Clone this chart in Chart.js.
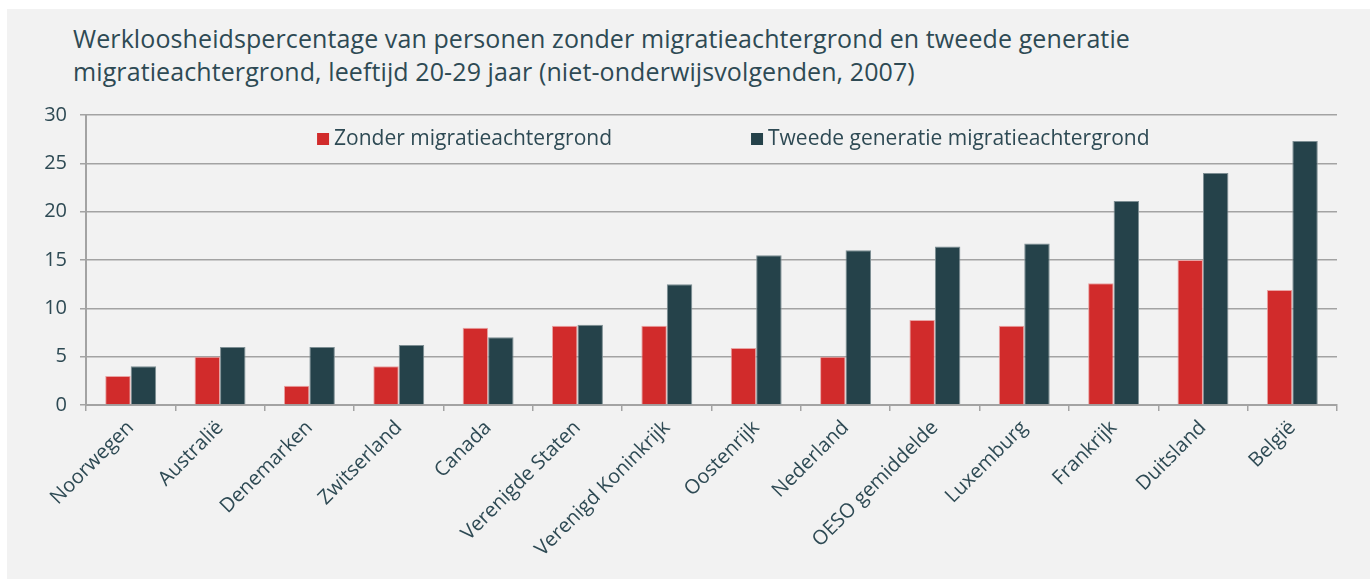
<!DOCTYPE html>
<html>
<head>
<meta charset="utf-8">
<script src="https://cdn.jsdelivr.net/npm/chart.js@4"></script>
<style>
  html, body { margin: 0; padding: 0; background: #ffffff; }
  #wrap {
    position: absolute; left: 7px; top: 9px;
    width: 1363px; height: 570px;
    background: #f2f2f2;
  }
  #title {
    position: absolute; left: 66px; top: 13px;
    font-family: "Open Sans", sans-serif; font-size: 25px; line-height: 33px;
    letter-spacing: 0.1px;
    color: #2e4a54;
  }
  canvas { position: absolute; left: 0; top: 0; }
</style>
</head>
<body>
<div id="wrap">
  <div id="title">Werkloosheidspercentage van personen zonder migratieachtergrond en tweede generatie<br>migratieachtergrond, leeftijd 20-29 jaar (niet-onderwijsvolgenden, 2007)</div>
  <canvas id="chart" width="1363" height="570"></canvas>
</div>
<script>
var categories = ["Noorwegen", "Australië", "Denemarken", "Zwitserland", "Canada",
  "Verenigde Staten", "Verenigd Koninkrijk", "Oostenrijk", "Nederland",
  "OESO gemiddelde", "Luxemburg", "Frankrijk", "Duitsland", "België"];
var zonder = [3, 5, 2, 4, 8, 8.2, 8.2, 5.9, 5, 8.8, 8.2, 12.6, 15, 11.9];
var tweede = [4, 6, 6, 6.2, 7, 8.3, 12.5, 15.5, 16, 16.4, 16.7, 21.1, 24, 27.3];
var seriesNames = ["Zonder migratieachtergrond", "Tweede generatie migratieachtergrond"];
var yTicks = [0, 5, 10, 15, 20, 25, 30];

var textColor = '#2e4a54';
var gridColor = '#a3a3a3';
var fontName = 'Open Sans';

// legend drawn inside the plot area, like the original
var innerLegend = {
  id: 'innerLegend',
  afterDraw(chart) {
    var ctx = chart.ctx;
    var area = chart.chartArea;
    var spots = [0.1847, 0.5316];
    ctx.save();
    ctx.font = '21px "' + fontName + '"';
    ctx.textBaseline = 'middle';
    chart.data.datasets.forEach(function(ds, i) {
      var x = area.left + area.width * spots[i];
      var y = area.top + 24;
      ctx.fillStyle = ds.backgroundColor;
      ctx.fillRect(x, y - 6, 12, 12);
      ctx.fillStyle = textColor;
      ctx.fillText(ds.label, x + 17, y);
    });
    ctx.restore();
  }
};

new Chart(document.getElementById('chart'), {
  type: 'bar',
  data: {
    labels: categories,
    datasets: [{
      label: seriesNames[0],
      data: zonder,
      backgroundColor: '#d12b2b',
      borderColor: '#e9a3a3',
      borderWidth: 1
    }, {
      label: seriesNames[1],
      data: tweede,
      backgroundColor: '#25424a',
      borderColor: '#7d8e93',
      borderWidth: 1
    }]
  },
  options: {
    responsive: false,
    animation: false,
    layout: { padding: { top: 106, right: 33, bottom: 0, left: 0 } },
    categoryPercentage: 0.57,
    barPercentage: 1.0,
    plugins: {
      legend: { display: false },
      tooltip: { enabled: false }
    },
    scales: {
      x: {
        grid: { display: true, drawOnChartArea: false, drawTicks: true, tickLength: 6, color: gridColor, lineWidth: 1.5, offset: true },
        border: { color: gridColor, width: 2 },
        ticks: {
          color: textColor,
          font: { family: fontName, size: 20 },
          maxRotation: 45, minRotation: 45,
          autoSkip: false,
          padding: 5
        },
        afterFit: function(s) { s.height = 174; }
      },
      y: {
        min: 0, max: 30,
        afterBuildTicks: function(s) { s.ticks = yTicks.map(function(v) { return { value: v }; }); },
        grid: { color: gridColor, lineWidth: 1.5, tickLength: 6 },
        border: { color: gridColor, width: 2 },
        ticks: {
          color: textColor,
          font: { family: fontName, size: 20 },
          padding: 13
        },
        afterFit: function(s) { s.width = 79; }
      }
    }
  },
  plugins: [innerLegend]
});
</script>
</body>
</html>
